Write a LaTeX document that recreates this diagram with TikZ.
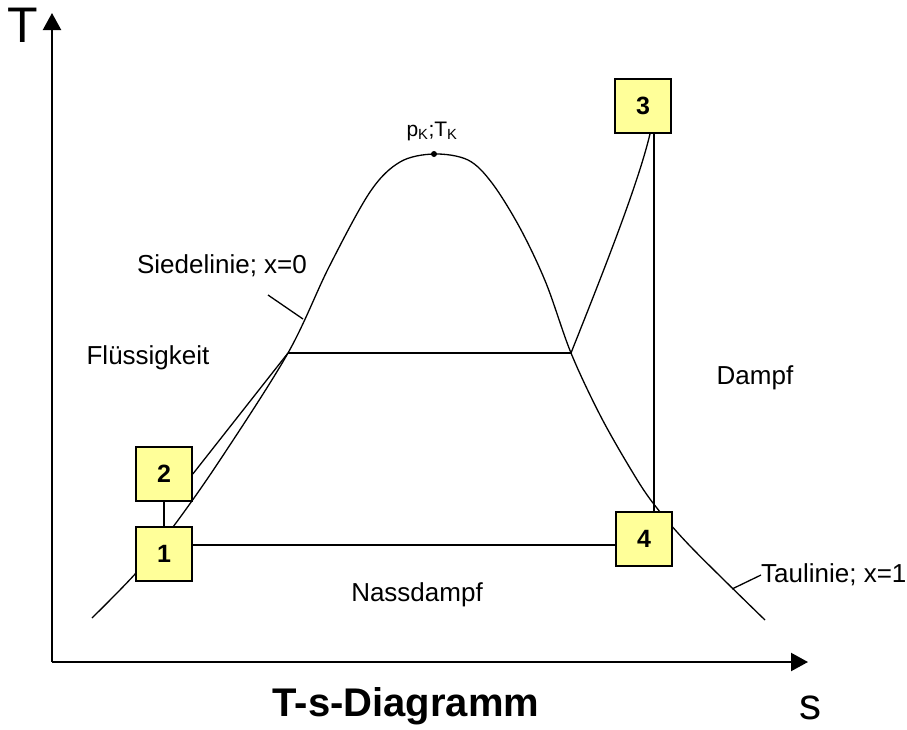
\documentclass[tikz,border=0pt]{standalone}
\usepackage{fontspec}
\setmainfont{Liberation Sans}
\usetikzlibrary{arrows.meta,backgrounds}
\definecolor{boxyellow}{HTML}{FFFF99}
\begin{document}
\begin{tikzpicture}[x=1pt,y=-1pt,
  statebox/.style={draw=black, line width=1.6pt, fill=boxyellow, minimum width=56pt, minimum height=54pt, inner sep=0pt, font=\fontsize{25}{30}\selectfont\bfseries},
  lbl/.style={font=\fontsize{26}{31}\selectfont, inner sep=0pt},
  curve/.style={line width=1.3pt, line join=round},
  straight/.style={line width=2pt},
  axis/.style={line width=2.2pt, -{Triangle[length=17pt,width=18pt]}}]
\useasboundingbox (0,0) rectangle (907,729);

% state boxes
\node[statebox] (b1) at (164,554) {1};
\node[statebox] (b2) at (164,474) {2};
\node[statebox] (b3) at (643,106) {3};
\node[statebox] (b4) at (644,539) {4};

% axes
\coordinate (O) at (52,662);
\coordinate (Ytop) at (52,13);
\coordinate (Xend) at (808,662);
\draw[axis] (O) -- (Ytop);
\draw[axis] (O) -- (Xend);
\node[font=\fontsize{50}{60}\selectfont, inner sep=0pt] (Tlab) at (23,25) {T};
\node[font=\fontsize{44}{52}\selectfont, anchor=base, inner sep=0pt] (slab) at (810,719) {s};
\node[font=\fontsize{40}{48}\selectfont\bfseries, anchor=base, inner sep=0pt] (title) at (406,716) {T-s-Diagramm};

% key points
\coordinate (A) at (288,353);
\coordinate (B) at (571,353);
\node[circle, fill=black, inner sep=0pt, minimum size=6pt] (kp) at (434,154) {};

\begin{scope}[on background layer]
% dome (Siedelinie + Taulinie)
\draw[curve] plot[smooth, tension=0.55] coordinates {(92,618) (136,573) (173,527) (220,460) (288,353) (329,267) (370,192) (400,162) (434,154) (468,160) (492,183) (520,228) (546,283) (571,353) (600,415) (630,468) (653,503) (690,546) (765,620)};
% process lines
\draw[curve] (b2.east) -- (A);
\draw[straight] (A) -- (B);
\draw[curve] (B) .. controls (600,280) and (638,185) .. ([xshift=7pt]b3.south);
\draw[straight] ([xshift=11pt]b3.south) -- ([xshift=10pt]b4.north);
\draw[straight] ([yshift=9pt]b1.east) -- ([yshift=-6pt]b4.west);
\draw[straight] (b2.south) -- (b1.north);
\end{scope}

% labels
\node[font=\fontsize{21}{25}\selectfont, inner sep=0pt] (pk) at (432,131) {p\textsubscript{K};T\textsubscript{K}};
\node[lbl] (siede) at (222,266) {Siedelinie; x=0};
\coordinate (sieL) at (268,295);
\coordinate (sieP) at (303,319);
\draw[curve] (sieL) -- (sieP);
\node[lbl] (fl) at (148,358) {Flüssigkeit};
\node[lbl] (dampf) at (755,378) {Dampf};
\node[lbl] (nass) at (417,595) {Nassdampf};
\node[lbl, anchor=west] (tau) at (761,575) {Taulinie; x=1};
\coordinate (tauP) at (732,589);
\draw[curve] (tauP) -- (tau.west);
\end{tikzpicture}
\end{document}
